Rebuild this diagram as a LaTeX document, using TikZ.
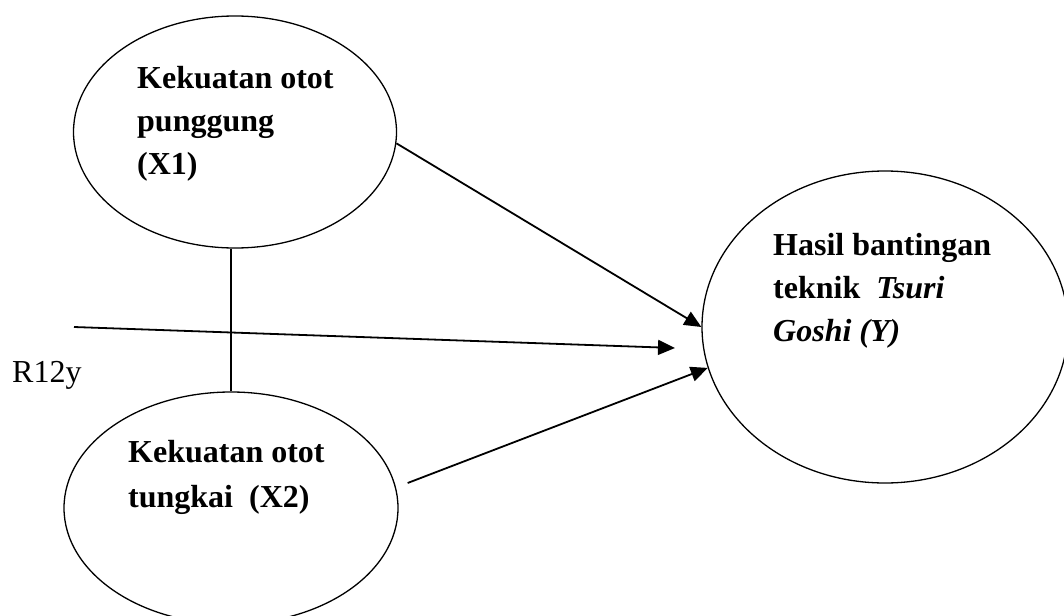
\documentclass[tikz,border=0pt]{standalone}
\usepackage{fontspec}
\setmainfont{Liberation Serif}
\usetikzlibrary{shapes.geometric,arrows.meta}
\begin{document}
\begin{tikzpicture}[x=1pt,y=-1pt,
  varbox/.style={draw,ellipse,line width=1.3pt,inner sep=0pt},
  lbl/.style={anchor=base west,align=left,inner sep=0pt,font=\fontsize{32}{43}\selectfont\bfseries},
  arr/.style={line width=1.8pt,-{Triangle[length=17pt,width=15pt]}},
  link/.style={line width=1.2pt}]
\useasboundingbox (0,0) rectangle (1064,615);
\begin{scope}
\clip (0,0) rectangle (1064,615);
\node[varbox,minimum width=323pt,minimum height=232pt] (X1) at (235,132) {};
\node[varbox,minimum width=334pt,minimum height=232pt] (X2) at (231,508) {};
\node[varbox,minimum width=366pt,minimum height=312pt] (Y) at (885,327) {};
\end{scope}
\node[lbl] (tX1) at (137,174) {Kekuatan otot\\punggung\\(X1)};
\node[lbl,font=\fontsize{32}{45}\selectfont\bfseries] (tX2) at (128,507) {Kekuatan otot\\tungkai\ \ (X2)};
\node[lbl] (tY) at (773,341) {Hasil bantingan\\teknik\ \ \textit{Tsuri}\\\textit{Goshi (Y)}};
\node[anchor=base west,inner sep=0pt,font=\fontsize{32}{43}\selectfont] (R) at (12,382) {R12y};
\coordinate (rs) at (74,327);
\coordinate (rt) at (675,348);
\draw[link] (X1.south -| X2.north) -- (X2.north);
\draw[arr] (X1.-4) -- (Y.west);
\draw[arr] (rs) -- (rt);
\draw[arr] ([xshift=9pt,yshift=25pt]X2.east) -- (Y.193);
\end{tikzpicture}
\end{document}
